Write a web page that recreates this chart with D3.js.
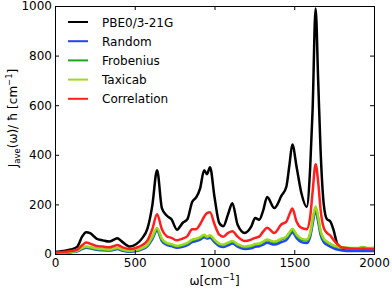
<!DOCTYPE html>
<html>
<head>
<meta charset="utf-8">
<script src="https://cdn.jsdelivr.net/npm/d3@7"></script>
<style>
body { margin: 0; background: #fff; }
text { font-family: "DejaVu Sans", sans-serif; }
</style>
</head>
<body>
<div id="chart"></div>
<script>
var margin = {top: 6, right: 18, bottom: 35, left: 55},
width = 392 - margin.left - margin.right,
height = 289 - margin.top - margin.bottom;

// wavenumber grid shared by all series
const omega = [0, 50, 100, 140, 170, 195, 220, 260, 300, 340, 370, 390, 420, 470, 510, 545, 580, 610, 640, 670,
  700, 730, 765, 800, 830, 860, 885, 910, 935, 953, 972, 1000, 1030, 1055, 1085, 1112, 1145, 1190, 1230, 1255,
  1280, 1305, 1330, 1375, 1420, 1450, 1470, 1488, 1515, 1545, 1578, 1600, 1615, 1634, 1650, 1665, 1685, 1705,
  1725, 1745, 1770, 1800, 1850, 1900, 1930, 1960, 2000];

const pbe0 = [8, 12, 18, 30, 70, 88, 84, 62, 55, 50, 58, 64, 50, 30, 40, 62, 103, 195, 338, 185,
  155, 140, 98, 125, 140, 210, 228, 265, 338, 322, 350, 230, 125, 112, 160, 205, 118, 85, 110, 145,
  138, 175, 230, 185, 235, 270, 360, 442, 350, 245, 190, 350, 580, 990, 700, 420, 200, 140,
  132, 100, 40, 22, 18, 20, 22, 20, 20];

const random = [2, 4, 7, 11, 20, 25, 23, 17, 15, 14, 17, 20, 14, 9, 12, 19, 32, 60, 95, 52,
  37, 32, 25, 29, 36, 48, 52, 58, 68, 62, 66, 48, 32, 28, 35, 42, 30, 20, 23, 29,
  31, 38, 45, 38, 48, 56, 74, 88, 64, 48, 44, 70, 120, 176, 130, 78, 48, 37,
  30, 24, 18, 14, 12, 12, 12, 12, 12];

const frobenius = [3, 5, 8, 13, 23, 28, 26, 20, 18, 16, 20, 23, 17, 11, 15, 22, 36, 66, 100, 58,
  42, 37, 30, 35, 42, 55, 59, 65, 74, 67, 72, 55, 39, 35, 43, 49, 37, 27, 31, 37,
  39, 47, 55, 47, 59, 67, 84, 98, 74, 58, 54, 80, 132, 185, 142, 88, 58, 47,
  40, 33, 28, 25, 23, 23, 28, 23, 24];

const taxicab = [3, 6, 9, 14, 25, 30, 28, 22, 20, 18, 22, 25, 19, 13, 17, 24, 38, 70, 105, 62,
  45, 40, 33, 38, 45, 58, 62, 68, 78, 70, 76, 58, 42, 38, 46, 52, 40, 30, 34, 40,
  42, 50, 58, 50, 62, 70, 88, 102, 78, 62, 58, 85, 140, 192, 150, 95, 62, 50,
  42, 35, 30, 26, 24, 24, 27, 24, 25];

const correlation = [5, 8, 12, 18, 35, 46, 42, 32, 30, 27, 32, 36, 28, 20, 25, 35, 55, 100, 160, 100,
  72, 65, 55, 62, 72, 100, 100, 120, 150, 165, 168, 120, 78, 70, 85, 92, 70, 52, 58, 65,
  70, 90, 106, 85, 120, 130, 160, 183, 130, 105, 100, 150, 250, 362, 290, 180, 105, 85,
  75, 58, 40, 26, 22, 21, 22, 21, 20];

const seriesNames = ["PBE0/3-21G", "Random", "Frobenius", "Taxicab", "Correlation"];
const seriesColors = ["#000000", "#2045ff", "#1fa51f", "#a0d820", "#ff1f1f"];
const seriesValues = [pbe0, random, frobenius, taxicab, correlation];

const xTicks = [0, 500, 1000, 1500, 2000];
const yTicks = [0, 200, 400, 600, 800, 1000];

var svg = d3.select("#chart")
.append("svg")
.attr("width", width + margin.left + margin.right)
.attr("height", height + margin.top + margin.bottom)
.append("g")
.attr("transform", "translate(" + margin.left + "," + margin.top + ")");

var x = d3.scaleLinear().domain([0, 2000]).range([0, width]);
var y = d3.scaleLinear().domain([0, 1000]).range([height, 0]);

svg.append("defs").append("clipPath").attr("id", "clip")
.append("rect").attr("width", width).attr("height", height);

var line = d3.line()
.x(d => x(d[0]))
.y(d => y(d[1]))
.curve(d3.curveMonotoneX);

var plot = svg.append("g").attr("clip-path", "url(#clip)");
seriesValues.forEach(function(vals, i) {
  plot.append("path")
  .datum(omega.map((w, j) => [w, vals[j]]))
  .attr("fill", "none")
  .attr("stroke", seriesColors[i])
  .attr("stroke-width", 2.5)
  .attr("stroke-linejoin", "round")
  .attr("d", line);
});

// axes with inward ticks on all four sides
function styleAxis(g) {
  g.select(".domain").remove();
  g.selectAll("line").attr("stroke", "#000");
  g.selectAll("text").attr("fill", "#000").style("font-size", "12px")
  .style("font-family", "'DejaVu Sans', sans-serif");
}

var fmt = d3.format("d");

svg.append("g")
.attr("transform", "translate(0," + height + ")")
.call(d3.axisBottom(x).tickValues(xTicks).tickFormat(fmt).tickSizeInner(-4).tickSizeOuter(0).tickPadding(4))
.call(styleAxis);
svg.append("g")
.call(d3.axisTop(x).tickValues(xTicks).tickSizeInner(-4).tickSizeOuter(0).tickFormat(""))
.call(styleAxis);
svg.append("g")
.call(d3.axisLeft(y).tickValues(yTicks).tickFormat(fmt).tickSizeInner(-4).tickSizeOuter(0).tickPadding(3))
.call(styleAxis);
svg.append("g")
.attr("transform", "translate(" + width + ",0)")
.call(d3.axisRight(y).tickValues(yTicks).tickSizeInner(-4).tickSizeOuter(0).tickFormat(""))
.call(styleAxis);

svg.append("rect")
.attr("width", width).attr("height", height)
.attr("fill", "none").attr("stroke", "#000").attr("stroke-width", 1)
.attr("shape-rendering", "crispEdges");

// legend
var legend = svg.append("g").attr("transform", "translate(13,16)");
seriesNames.forEach(function(name, i) {
  var row = legend.append("g").attr("transform", "translate(0," + (i * 19.2) + ")");
  row.append("line").attr("x1", 0).attr("x2", 20).attr("y1", 0).attr("y2", 0)
  .attr("stroke", seriesColors[i]).attr("stroke-width", 2);
  row.append("text").attr("x", 34).attr("y", 4.5).style("font-size", "12px").text(name);
});

// axis labels
var xl = svg.append("text")
.attr("x", width / 2).attr("y", height + 31)
.attr("text-anchor", "middle").style("font-size", "12px");
xl.append("tspan").text("ω[cm");
xl.append("tspan").attr("dy", -5).style("font-size", "8.5px").text("−1");
xl.append("tspan").attr("dy", 5).text("]");

var yl = svg.append("text")
.attr("transform", "translate(-38," + (height / 2 - 12) + ") rotate(-90)")
.attr("text-anchor", "middle").style("font-size", "12px");
yl.append("tspan").text("J");
yl.append("tspan").attr("dy", 3).style("font-size", "8.5px").text("ave");
yl.append("tspan").attr("dy", -3).text("(ω)/ ħ [cm");
yl.append("tspan").attr("dy", -5).style("font-size", "8.5px").text("−1");
yl.append("tspan").attr("dy", 5).text("]");
</script>
</body>
</html>
